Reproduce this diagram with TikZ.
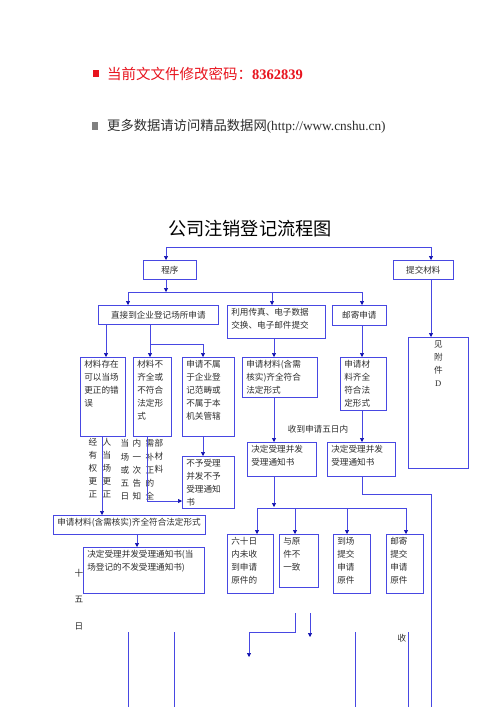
\documentclass[tikz,border=0pt]{standalone}
\usepackage{fontspec}
\setmainfont{Liberation Serif}
\newfontfamily\cjk{Noto Sans CJK SC}
\usetikzlibrary{arrows.meta}
\definecolor{lineblue}{RGB}{72,72,226}
\definecolor{tipblue}{RGB}{15,15,175}
\definecolor{pwred}{RGB}{232,20,30}
\definecolor{darkgrey}{RGB}{45,45,45}
% text set at the top of a box
\newcommand{\bt}[4][\raggedright]{\parbox[c][#3][t]{#2}{#1\cjk\fontsize{8.6}{13}\selectfont #4}}

\begin{document}
\begin{tikzpicture}[x=1pt, y=-1pt,
    line/.style={draw=lineblue, line width=0.7pt},
    arr/.style={line, -{Triangle[length=4pt,width=4pt,color=tipblue]}},
    box/.style={draw=lineblue, line width=0.7pt, anchor=north west, inner xsep=4pt, inner ysep=3pt, text=darkgrey},
    sbox/.style={draw=lineblue, line width=0.7pt, anchor=north west, inner sep=0pt, minimum height=19pt, text=darkgrey, font=\cjk\fontsize{8.6}{13}\selectfont},
    vtxt/.style={inner sep=0pt, align=center, text=darkgrey, font=\cjk\fontsize{8.6}{13.2}\selectfont}]
  \fill[white] (0,0) rectangle (500,707);
  \useasboundingbox (0,0) rectangle (500,707);

  % header
  \fill[pwred] (93,70) rectangle (99,77);
  \node[anchor=west, inner sep=0pt, text=pwred, font=\cjk\fontsize{14.5}{16}\selectfont] (pw) at (107,74)
    {当前文文件修改密码：{\rmfamily\bfseries 8362839}};
  \fill[gray] (92,122) rectangle (98,130);
  \node[anchor=west, inner sep=0pt, text=darkgrey, font=\fontsize{13.3}{15}\selectfont] (more) at (107,126)
    {{\cjk 更多数据请访问精品数据网}(http://www.cnshu.cn)};
  \node[inner sep=0pt, font=\cjk\fontsize{18.2}{20}\selectfont] (title) at (250,229) {公司注销登记流程图};

  % boxes
  \node[sbox, minimum width=53pt] (cx) at (143,260) {程序};
  \node[sbox, minimum width=60pt] (tj) at (393,260) {提交材料};
  \node[sbox, minimum width=120pt] (zj) at (98,305) {直接到企业登记场所申请};
  \node[box] (ly) at (227,305) {\bt{90pt}{27pt}{利用传真、电子数据\\交换、电子邮件提交}};
  \node[sbox, minimum width=54pt, minimum height=20pt] (yj) at (332,305) {邮寄申请};
  \node[box] (fj) at (408,337) {\bt[\centering]{52pt}{125pt}{见\\附\\件\\{\rmfamily D}}};

  \node[box] (cz) at (80,357) {\bt{37pt}{73pt}{材料存在\\可以当场\\更正的错\\误}};
  \node[box] (bq) at (133,357) {\bt{30pt}{73pt}{材料不\\齐全或\\不符合\\法定形\\式}};
  \node[box] (bs) at (182,357) {\bt{44pt}{73pt}{申请不属\\于企业登\\记范畴或\\不属于本\\机关管辖}};
  \node[box] (q1) at (242,357) {\bt{67pt}{34pt}{申请材料(含需\\核实)齐全符合\\法定形式}};
  \node[box] (q2) at (340,357) {\bt{38pt}{47pt}{申请材\\料齐全\\符合法\\定形式}};

  \node[box] (by) at (182,456) {\bt{44pt}{46pt}{不予受理\\并发不予\\受理通知\\书}};
  \node[box] (d1) at (247,442) {\bt{61pt}{28pt}{决定受理并发\\受理通知书}};
  \node[box] (d2) at (327,442) {\bt{60pt}{28pt}{决定受理并发\\受理通知书}};

  \node[box] (s0) at (53,515) {\bt{144pt}{13pt}{申请材料(含需核实)齐全符合法定形式}};
  \node[box] (j0) at (83,547) {\bt{113pt}{40pt}{决定受理并发受理通知书(当\\场登记的不发受理通知书)}};

  \node[box] (l1) at (227,534) {\bt{38pt}{53pt}{六十日\\内未收\\到申请\\原件的}};
  \node[box] (l2) at (279,534) {\bt{31pt}{47pt}{与原\\件不\\一致}};
  \node[box] (l3) at (333,534) {\bt{29pt}{53pt}{到场\\提交\\申请\\原件}};
  \node[box] (l4) at (386,534) {\bt{29pt}{53pt}{邮寄\\提交\\申请\\原件}};

  % loose texts
  \node[vtxt] (jy) at (93,468) {经\\有\\权\\更\\正};
  \node[vtxt] (rd) at (107,468) {人\\当\\场\\更\\正};
  \node[vtxt] (dc) at (125,470) {当\\场\\或\\五\\日};
  \node[vtxt] (nc) at (137,470) {内\\一\\次\\告\\知};
  \node[vtxt] (xb) at (150,470) {需\\补\\正\\的\\全};
  \node[vtxt, anchor=north] (bc) at (159,439) {部\\材\\料};
  \node[vtxt, font=\cjk\fontsize{8.6}{26.5}\selectfont] (swr) at (79,599.5) {十\\五\\日};
  \node[vtxt] (sd) at (318,429) {收到申请五日内};
  \node[vtxt] (sh) at (402,638) {收};

  % top line
  \coordinate (t1) at (166,247);
  \coordinate (t2) at (431,247);
  \draw[line] (t1) -- (t2);
  \draw[arr] (t1) -- (t1 |- cx.north);
  \draw[arr] (t2) -- (t2 |- tj.north);

  % three ways of applying
  \coordinate (b1) at (128,292);
  \coordinate (b2) at (272,292);
  \coordinate (b3) at (362,292);
  \draw[arr] (t1 |- cx.south) -- (t1 |- b1);
  \draw[line] (b1) -- (b3);
  \draw[arr] (b1) -- (b1 |- zj.north);
  \draw[arr] (b2) -- (b2 |- ly.north);
  \draw[arr] (b3) -- (b3 |- yj.north);
  \draw[arr] (t2 |- tj.south) -- (t2 |- fj.north);

  % on the spot
  \coordinate (c1) at (106,344);
  \coordinate (c2) at (150,344);
  \coordinate (c3) at (203,344);
  \draw[arr] (c1 |- zj.south) -- (c1 |- cz.north);
  \draw[arr] (c2 |- zj.south) -- (c2 |- bq.north);
  \draw[line] (c2) -- (c3);
  \draw[arr] (c3) -- (c3 |- bs.north);
  \draw[arr] (c3 |- bs.south) -- (c3 |- by.north);
  \coordinate (c7) at (147,501);
  \draw[arr] (c7 |- bq.south) -- (c7) -- (c7 -| by.west);
  \coordinate (c8) at (102,515);
  \draw[arr] (c8 |- cz.south) -- (c8 |- s0.north);
  \coordinate (c9) at (137,540);
  \draw[arr] (c9 |- s0.south) -- (c9 |- j0.north);

  % fax and post
  \coordinate (c4) at (274,507);
  \coordinate (c5) at (362,494);
  \coordinate (c6) at (431,494);
  \draw[arr] (c4 |- ly.south) -- (c4 |- q1.north);
  \draw[arr] (c4 |- q1.south) -- (c4 |- d1.north);
  \draw[arr] (c5 |- yj.south) -- (c5 |- q2.north);
  \draw[arr] (c5 |- q2.south) -- (c5 |- d2.north);
  \draw[line] (c5 |- d2.south) -- (c5) -- (c6) -- (431,707);
  \draw[arr] (c4 |- d1.south) -- (c4);
  \coordinate (c10) at (257,508);
  \coordinate (c11) at (406,508);
  \draw[line] (c10) -- (c11);
  \foreach \x/\n in {257/l1, 295/l2, 347/l3, 406/l4}
    \draw[arr] (\x,508) -- (\x,0 |- \n.north);

  % going off the page
  \foreach \x in {128,174,355,408}
    \draw[line] (\x,632) -- (\x,707);
  \draw[arr] (295,613) -- (295,632) -- (249,632) -- (249,657);
  \draw[arr] (310,613) -- (310,637);
\end{tikzpicture}
\end{document}
